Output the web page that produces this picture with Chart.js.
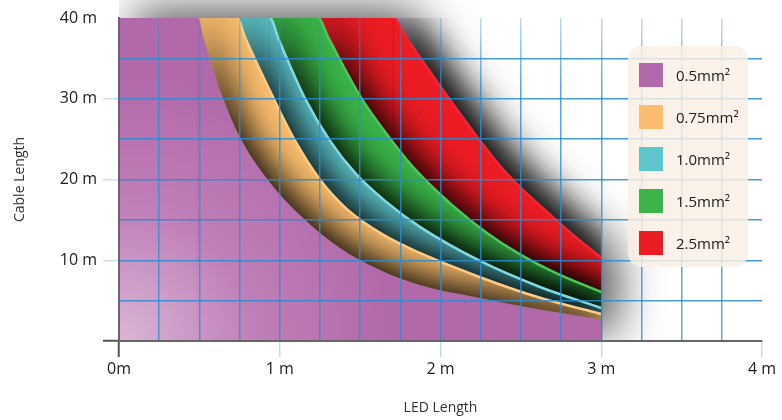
<!DOCTYPE html>
<html>
<head>
<meta charset="utf-8">
<title>Cable length vs LED length</title>
<script src="https://cdn.jsdelivr.net/npm/chart.js@4.4.1/dist/chart.umd.min.js"></script>
<style>
    html, body { margin: 0; padding: 0; background: #fff; }
    #wrap { position: relative; width: 782px; height: 420px; font-family: 'Open Sans', sans-serif; }
    #legend {
        position: absolute; left: 628px; top: 46px; width: 120px; height: 221px;
        background: rgba(249, 239, 229, 0.84); border-radius: 14px;
    }
    .item { position: absolute; left: 11px; height: 24px; display: flex; align-items: center; font-size: 15px; color: #222; }
    .swatch { width: 24px; height: 24px; margin-right: 13px; }
</style>
</head>
<body>
<div id="wrap">
    <canvas id="chart" width="782" height="420"></canvas>
    <div id="legend"></div>
</div>
<script>
// wire sizes, one band each
const sizes = ['0.5mm²', '0.75mm²', '1.0mm²', '1.5mm²', '2.5mm²'];

// LED length (m) and the max cable length (m) read along the outer edge of each band
const led05 = [0, 0.491, 0.526, 0.644, 0.759, 0.927, 1.126, 1.375, 1.624, 1.872, 2.246, 2.619, 3.0];
const cable05 = [40, 40, 37.55, 30.24, 25.03, 19.95, 15.61, 11.52, 8.8, 6.94, 5.33, 3.9, 2.66];

const led075 = [0, 0.734, 0.786, 0.958, 1.09, 1.25, 1.42, 1.64, 1.872, 2.246, 2.619, 3.0];
const cable075 = [40, 40, 37.52, 30.2, 25, 20, 16.3, 13.2, 10.9, 7.9, 5.35, 3.35];

const led10 = [0, 0.939, 0.993, 1.157, 1.313, 1.474, 1.655, 1.872, 2.246, 2.619, 3.0];
const cable10 = [40, 40, 37.4, 30.05, 24.78, 20.69, 17.35, 14.13, 9.91, 6.69, 4.09];

const led15 = [0, 1.238, 1.304, 1.499, 1.686, 1.854, 2.078, 2.289, 2.495, 2.743, 3.0];
const cable15 = [40, 40, 37.5, 30.36, 25.09, 21.0, 16.73, 13.38, 10.72, 8.18, 6.07];

const led25 = [0, 1.705, 1.792, 1.872, 2.059, 2.233, 2.37, 2.507, 2.65, 2.818, 3.0];
const cable25 = [40, 40, 37.48, 35.13, 29.87, 25.15, 21.69, 18.84, 16.23, 13.26, 10.29];

// axis ticks
const xTickLabels = ['0m', '1 m', '2 m', '3 m', '4 m'];
const yTickLabels = ['', '10 m', '20 m', '30 m', '40 m'];

const fillColors = ['#b169a9', '#f9bd6e', '#5ec5cb', '#3bb449', '#ec1c24'];
const edgeColors = ['rgba(0,0,0,0)', '#ffcb80', '#7fdbe3', '#4ac859', '#f2262e'];

const bands = [
    [led05, cable05],
    [led075, cable075],
    [led10, cable10],
    [led15, cable15],
    [led25, cable25]
];

function toPoints(xs, ys) {
    return xs.map((x, i) => ({ x: x, y: ys[i] }));
}

function purpleFill(c) {
    const a = c.chart.chartArea;
    if (!a) return fillColors[0];
    const g = c.chart.ctx.createRadialGradient(a.left, a.bottom, 0, a.left, a.bottom, 270);
    g.addColorStop(0, '#dbb6d5');
    g.addColorStop(0.5, '#bf7fb8');
    g.addColorStop(1, '#b169a9');
    return g;
}

function gridGradient(chart, strong) {
    const a = chart.chartArea;
    const g = chart.ctx.createLinearGradient(0, a.top, 0, a.bottom);
    g.addColorStop(0, 'rgba(45,140,210,0.3)');
    g.addColorStop(0.22, 'rgba(45,140,210,' + strong + ')');
    g.addColorStop(1, 'rgba(45,140,210,' + strong + ')');
    return g;
}

// big soft shadow behind the whole block + shading of each band by the one in front
const shadowPlugin = {
    id: 'bandShadows',
    beforeDraw(chart) {
        const ctx = chart.ctx;
        const a = chart.chartArea;
        const pts = chart.getDatasetMeta(bands.length - 1).data;
        const y0 = chart.scales.y.getPixelForValue(0);

        ctx.save();
        ctx.beginPath();
        ctx.rect(a.left, 0, chart.width - a.left, a.bottom);
        ctx.clip();
        ctx.shadowColor = 'rgba(0,0,0,0.68)';
        ctx.shadowBlur = 46;
        ctx.shadowOffsetX = 16;
        ctx.shadowOffsetY = -8;
        ctx.beginPath();
        pts.forEach((p, i) => i ? ctx.lineTo(p.x, p.y) : ctx.moveTo(p.x, p.y));
        ctx.lineTo(pts[pts.length - 1].x, y0);
        ctx.lineTo(pts[0].x, y0);
        ctx.closePath();
        ctx.fillStyle = '#000';
        ctx.fill();
        ctx.restore();

        ctx.shadowColor = 'rgba(0,0,0,0.93)';
        ctx.shadowBlur = 34;
        ctx.shadowOffsetX = 8;
        ctx.shadowOffsetY = -8;
    },
    beforeDatasetsDraw(chart) {
        const ctx = chart.ctx;
        ctx.shadowColor = 'rgba(0,0,0,0)';
        ctx.shadowBlur = 0;
        ctx.shadowOffsetX = 0;
        ctx.shadowOffsetY = 0;
    }
};

const datasets = bands.map((b, i) => ({
    label: sizes[i],
    data: toPoints(b[0], b[1]),
    fill: 'origin',
    backgroundColor: i === 0 ? purpleFill : fillColors[i],
    borderColor: edgeColors[i],
    borderWidth: i === 0 ? 0 : 2.5,
    borderJoinStyle: 'round',
    cubicInterpolationMode: 'monotone',
    segment: {
        borderColor: c => c.p0DataIndex === 0 ? 'rgba(0,0,0,0)' : undefined
    }
}));

new Chart(document.getElementById('chart'), {
    type: 'line',
    data: { datasets: datasets },
    options: {
        responsive: false,
        animation: false,
        events: [],
        layout: { padding: { top: 18, right: 20, left: 0, bottom: 0 } },
        elements: { point: { radius: 0 } },
        font: { family: "'Open Sans', sans-serif" },
        plugins: {
            legend: { display: false },
            tooltip: { enabled: false },
            filler: { drawTime: 'beforeDatasetsDraw' }
        },
        scales: {
            x: {
                type: 'linear',
                min: 0,
                max: 4,
                afterFit: s => { s.height = 79; },
                ticks: {
                    stepSize: 0.25,
                    autoSkip: false,
                    maxRotation: 0,
                    padding: 3,
                    color: '#222',
                    z: 1,
                    font: { family: "'Open Sans', sans-serif", size: 16 },
                    callback: v => Number.isInteger(v) ? xTickLabels[v] : ''
                },
                grid: {
                    z: 1,
                    lineWidth: 1.5,
                    tickLength: 16,
                    color: c => (c.tick.value === 0 || c.tick.value === 4) ? 'rgba(0,0,0,0)' : gridGradient(c.chart, 0.8),
                    tickColor: c => c.tick.value === 0 ? '#555' : (Number.isInteger(c.tick.value) ? 'rgba(120,180,225,0.45)' : 'rgba(0,0,0,0)'),
                    tickWidth: c => c.tick.value === 0 ? 2 : 1.5
                },
                border: { color: '#666', width: 2, z: 1 },
                title: {
                    display: true,
                    text: 'LED Length',
                    color: '#333',
                    padding: { top: 0, bottom: 4 },
                    font: { family: "'Open Sans', sans-serif", size: 14 }
                }
            },
            y: {
                min: 0,
                max: 40,
                afterFit: s => { s.width = 119; },
                ticks: {
                    stepSize: 5,
                    padding: 6,
                    color: '#222',
                    z: 1,
                    font: { family: "'Open Sans', sans-serif", size: 16 },
                    callback: v => v % 10 === 0 ? yTickLabels[v / 10] : ''
                },
                grid: {
                    z: 1,
                    lineWidth: 1.5,
                    tickLength: 16,
                    color: c => (c.tick.value === 0 || c.tick.value === 40) ? 'rgba(0,0,0,0)' : 'rgba(40,140,210,0.85)',
                    tickColor: c => c.tick.value === 0 ? '#555' : ((c.tick.value % 10 === 0 && c.tick.value < 40) ? 'rgba(120,180,225,0.4)' : 'rgba(0,0,0,0)'),
                    tickWidth: c => c.tick.value === 0 ? 2 : 1.5
                },
                border: { color: '#666', width: 2, z: 1 },
                title: {
                    display: true,
                    text: 'Cable Length',
                    color: '#333',
                    padding: { top: 12, bottom: 0 },
                    font: { family: "'Open Sans', sans-serif", size: 14 }
                }
            }
        }
    },
    plugins: [shadowPlugin]
});

// legend box on the right
const legend = document.getElementById('legend');
sizes.forEach((s, i) => {
    const item = document.createElement('div');
    item.className = 'item';
    item.style.top = (17 + i * 42) + 'px';
    item.innerHTML = '<span class="swatch" style="background:' + fillColors[i] + '"></span><span>' + s + '</span>';
    legend.appendChild(item);
});
</script>
</body>
</html>
